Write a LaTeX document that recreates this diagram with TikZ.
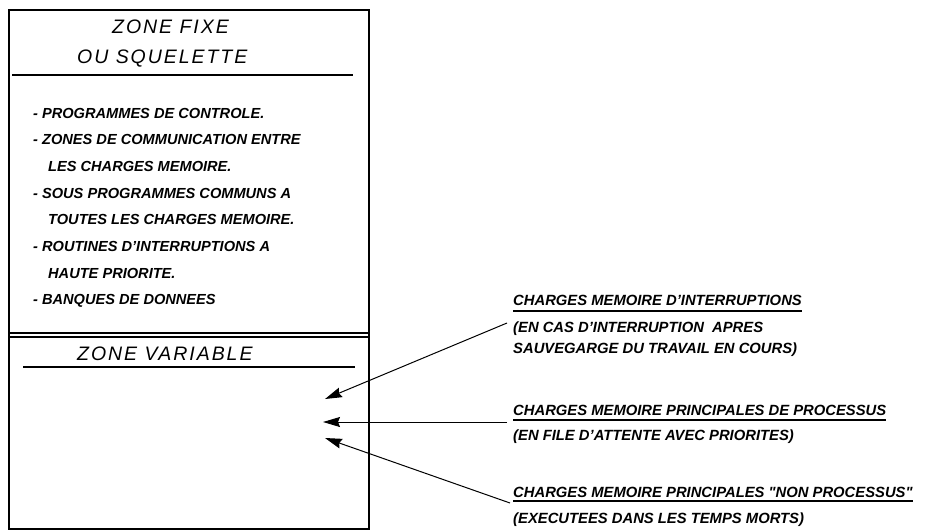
\documentclass[tikz,border=0pt]{standalone}
\usepackage{fontspec}
\setmainfont{Liberation Sans}
\usetikzlibrary{arrows.meta}
\begin{document}
\begin{tikzpicture}[x=1pt,y=-1pt,
  title/.style={anchor=base west, inner sep=0pt,
    font=\fontsize{19.5}{19.5}\selectfont\itshape\addfontfeature{LetterSpace=10}},
  item/.style={anchor=base west, inner sep=0pt,
    font=\fontsize{14.6}{14.6}\selectfont\bfseries\itshape},
  note/.style={anchor=base west, inner sep=0pt,
    font=\fontsize{14.8}{14.8}\selectfont\bfseries\itshape},
  frame/.style={line width=2pt},
  rule/.style={line width=1.6pt},
  underline/.style={line width=1.3pt},
  ptr/.style={line width=1pt, -{Stealth[length=17pt,width=10pt,inset=2pt]}}
]
\useasboundingbox (0,0) rectangle (947,531);

% memory frame
\draw[frame] (9,10) rectangle (369,529);

% fixed zone
\node[title] (zf1) at (112,33) {ZONE FIXE};
\node[title] (zf2) at (77,63) {OU SQUELETTE};
\draw[rule] (12,75) -- (353,75);

\node[item] (i1) at (33,118.0) {- PROGRAMMES DE CONTROLE.};
\node[item] (i2) at (33,144.7) {- ZONES DE COMMUNICATION ENTRE};
\node[item] (i2b) at (48,171.3) {LES CHARGES MEMOIRE.};
\node[item] (i3) at (33,198.0) {- SOUS PROGRAMMES COMMUNS A};
\node[item] (i3b) at (48,224.7) {TOUTES LES CHARGES MEMOIRE.};
\node[item] (i4) at (33,251.3) {- ROUTINES D'INTERRUPTIONS A};
\node[item] (i4b) at (48,278.0) {HAUTE PRIORITE.};
\node[item] (i5) at (33,304.7) {- BANQUES DE DONNEES};

% boundary between the two zones
\draw[line width=1.2pt] (9,333) -- (369,333);
\draw[line width=1.2pt] (9,337) -- (369,337);

% variable zone
\node[title] (zv) at (77,360) {ZONE VARIABLE};
\draw[rule] (23,367) -- (355,367);

\coordinate (tipA) at (325,399);
\coordinate (tipB) at (323,422);
\coordinate (tipC) at (325,438);

% kinds of memory loads
\node[note] (h1) at (513,305) {CHARGES MEMOIRE D'INTERRUPTIONS};
\node[note] (h1a) at (513,332) {(EN CAS D'INTERRUPTION\ \ APRES};
\node[note] (h1b) at (513,353) {SAUVEGARGE DU TRAVAIL EN COURS)};
\draw[underline] ([yshift=-6pt]h1.base west) -- ([yshift=-6pt]h1.base east);

\node[note] (h2) at (513,415) {CHARGES MEMOIRE PRINCIPALES DE PROCESSUS};
\node[note] (h2a) at (513,440) {(EN FILE D'ATTENTE AVEC PRIORITES)};
\draw[underline] ([yshift=-5pt]h2.base west) -- ([yshift=-5pt]h2.base east);

\node[note] (h3) at (513,497) {CHARGES MEMOIRE PRINCIPALES \textquotedbl NON PROCESSUS\textquotedbl};
\node[note] (h3a) at (513,523) {(EXECUTEES DANS LES TEMPS MORTS)};
\draw[underline] ([yshift=-4pt]h3.base west) -- ([yshift=-4pt]h3.base east);

\draw[ptr] ([shift={(-6,-9)}]h1a.base west) -- (tipA);
\draw[ptr] ([shift={(-6,7)}]h2.base west) -- (tipB);
\draw[ptr] ([shift={(-3,6)}]h3.base west) -- (tipC);
\end{tikzpicture}
\end{document}
